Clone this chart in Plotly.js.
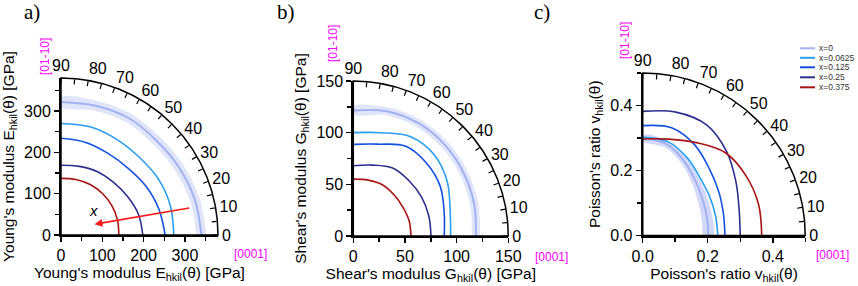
<!DOCTYPE html>
<html>
<head>
<meta charset="utf-8">
<script src="https://cdn.plot.ly/plotly-3.0.1.min.js"></script>
<style>html,body{margin:0;padding:0;background:#fff;}#chart{width:858px;height:286px;}</style>
</head>
<body>
<div id="chart"></div>
<script>
// ---- data ----
const theta = [0, 15, 30, 45, 60, 75, 90];
const seriesNames = ['x=0', 'x=0.0625', 'x=0.125', 'x=0.25', 'x=0.375'];
const seriesColors = ['#a3b1f0', '#2a9df0', '#1450e0', '#2e2e8e', '#a81414'];

// Young's modulus E (GPa)
const E_x0 = [340, 335, 329, 325, 327, 324, 322];
const E_x0_spread = [12, 12, 12, 12, 12, 12, 12];
const E_x00625 = [273, 274, 272, 267, 268, 271, 270];
const E_x0125 = [252, 245, 237, 229, 228, 232, 234];
const E_x025 = [198, 194, 186, 180, 177, 172, 169];
const E_x0375 = [140, 141.5, 142, 142, 141, 139, 137];

// Shear modulus G (GPa)
const G_x0 = [118.7, 121, 123, 125, 126, 125, 121.5];
const G_x0_spread = [4, 4, 4, 4, 4, 4, 4];
const G_x00625 = [94.2, 97, 105, 111, 111, 103.5, 100];
const G_x0125 = [88, 91, 97, 100, 100.5, 92, 88.7];
const G_x025 = [75.2, 75.6, 76, 76, 76, 71, 68];
const G_x0375 = [55.8, 56, 55.5, 56, 57, 56, 55];

// Poisson's ratio v
const V_x0 = [0.202, 0.205, 0.214, 0.232, 0.260, 0.290, 0.300];
const V_x0_spread = [0.018, 0.017, 0.016, 0.014, 0.012, 0.011, 0.010];
const V_x00625 = [0.231, 0.232, 0.238, 0.250, 0.275, 0.299, 0.302];
const V_x0125 = [0.253, 0.257, 0.270, 0.290, 0.321, 0.343, 0.338];
const V_x025 = [0.300, 0.307, 0.331, 0.365, 0.393, 0.393, 0.382];
const V_x0375 = [0.366, 0.369, 0.367, 0.360, 0.330, 0.307, 0.297];

const angleTicks = [0,5,10,15,20,25,30,35,40,45,50,55,60,65,70,75,80,85,90];
const angleTickText = ['0',' ','10',' ','20',' ','30',' ','40',' ','50',' ','60',' ','70',' ','80',' ','90'];

// ---- layout helpers ----
const W = 858, H = 286;
const px = v => v / W;
const py = v => 1 - v / H;
const FONT = 'Liberation Sans, Arial, sans-serif';

const panels = [
  {id: '', pid: 'polar', x0: 61, x1: 218, y0: 78, y1: 235, range: [0, 380], dtick: 100, minor: 50, fmt: '',
   xtitle: "Young's modulus E<sub>hkil</sub>(θ) [GPa]", ytitle: "Young's modulus E<sub>hkil</sub>(θ) [GPa]",
   main: [E_x0, E_x00625, E_x0125, E_x025, E_x0375], spread: E_x0_spread, bandColor: 'rgba(165,180,242,0.35)'},
  {id: '2', pid: 'polar2', x0: 353.3, x1: 508.3, y0: 81, y1: 236, range: [0, 150], dtick: 50, minor: 25, fmt: '',
   xtitle: "Shear's modulus G<sub>hkil</sub>(θ) [GPa]", ytitle: "Shear's modulus G<sub>hkil</sub>(θ) [GPa]",
   main: [G_x0, G_x00625, G_x0125, G_x025, G_x0375], spread: G_x0_spread, bandColor: 'rgba(165,180,242,0.35)'},
  {id: '3', pid: 'polar3', x0: 642.7, x1: 805.3, y0: 73, y1: 235.5, range: [0, 0.5], dtick: 0.2, minor: 0.1, fmt: '.1f',
   xtitle: "Poisson's ratio v<sub>hkil</sub>(θ)", ytitle: "Poisson's ratio v<sub>hkil</sub>(θ)",
   main: [V_x0, V_x00625, V_x0125, V_x025, V_x0375], spread: V_x0_spread, bandColor: 'rgba(165,180,242,0.5)'}
];

const traces = [];
const layout = {
  width: W, height: H,
  margin: {l: 0, r: 0, t: 0, b: 0},
  paper_bgcolor: '#fff', plot_bgcolor: 'rgba(0,0,0,0)',
  showlegend: false,
  font: {family: FONT, color: '#000'},
  shapes: [], annotations: []
};

panels.forEach(p => {
  traces.push({type: 'scatter', x: [], y: [], xaxis: 'x' + p.id, yaxis: 'y' + p.id, showlegend: false, hoverinfo: 'skip'});
  const axCommon = {
    range: p.range, showline: true, linecolor: '#000', linewidth: 2, mirror: false,
    ticks: 'outside', ticklen: 5, tickwidth: 1.5, tickcolor: '#000', dtick: p.dtick, tick0: 0,
    minor: {dtick: p.minor, ticks: 'outside', ticklen: 4, tickwidth: 1.5, tickcolor: '#000'},
    showgrid: false, zeroline: false, tickfont: {size: 16, family: FONT}, tickformat: p.fmt, fixedrange: true
  };
  layout['xaxis' + p.id] = Object.assign({}, axCommon, {
    domain: [px(p.x0), px(p.x1)], anchor: 'y' + p.id,
    title: {text: p.xtitle, font: {size: 15.5, family: FONT}, standoff: 4}
  });
  layout['yaxis' + p.id] = Object.assign({}, axCommon, {
    domain: [py(p.y1), py(p.y0)], anchor: 'x' + p.id,
    title: {text: p.ytitle, font: {size: 15.5, family: FONT}, standoff: 6}
  });
  layout[p.pid] = {
    domain: {x: [px(p.x0), px(p.x1)], y: [py(p.y1), py(p.y0)]},
    sector: [0, 90],
    bgcolor: 'rgba(0,0,0,0)',
    radialaxis: {range: p.range, visible: false, showgrid: false},
    angularaxis: {
      tickmode: 'array', tickvals: angleTicks, ticktext: angleTickText,
      ticks: 'inside', ticklen: 5, tickwidth: 1.2, tickcolor: '#000',
      showline: true, linecolor: '#000', linewidth: 1.5, showgrid: false,
      direction: 'counterclockwise', rotation: 0,
      tickfont: {size: 16, family: FONT, color: '#000'}
    }
  };
  const outer = p.main[0].map((r, i) => r + p.spread[i]);
  const inner = p.main[0].map((r, i) => r - p.spread[i]);
  traces.push({
    type: 'scatterpolar', subplot: p.pid,
    r: outer.concat(inner.slice().reverse()),
    theta: theta.concat(theta.slice().reverse()),
    mode: 'lines', fill: 'toself', fillcolor: p.bandColor,
    line: {width: 0, shape: 'spline', color: p.bandColor}, showlegend: false, hoverinfo: 'skip'
  });
  p.main.forEach((vals, k) => {
    traces.push({
      type: 'scatterpolar', subplot: p.pid, r: vals, theta: theta,
      mode: 'lines', name: seriesNames[k],
      line: {color: seriesColors[k], width: k === 0 ? 2 : 1.6, shape: 'spline'},
      showlegend: false
    });
  });
});

const ann = (o) => layout.annotations.push(Object.assign({xref: 'paper', yref: 'paper', showarrow: false,
  xanchor: 'center', yanchor: 'middle'}, o));

// panel letters
[['a)', 32], ['b)', 286], ['c)', 542]].forEach(([t, x]) => {
  ann({text: t, x: px(x), y: py(12), font: {family: 'Liberation Serif, Times New Roman, serif', size: 21, color: '#000'}});
});
// direction labels
[[45, 57], [333, 44], [625, 41]].forEach(([x, y]) => {
  ann({text: '[01-10]', x: px(x), y: py(y), textangle: -90, font: {family: FONT, size: 12, color: '#ff00ff'}});
});
[[251, 254], [551, 257], [832, 255]].forEach(([x, y]) => {
  ann({text: '[0001]', x: px(x), y: py(y), font: {family: FONT, size: 12, color: '#ff00ff'}});
});
// arrow in panel a
layout.annotations.push({x: 81, y: 26, xref: 'x', yref: 'y', ax: 314, ay: 66, axref: 'x', ayref: 'y',
  showarrow: true, arrowhead: 2, arrowsize: 1, arrowwidth: 1.6, arrowcolor: '#ff1a1a', text: ''});
layout.annotations.push({x: 78, y: 59, xref: 'x', yref: 'y', text: '<i>x</i>', showarrow: false,
  xanchor: 'center', yanchor: 'middle', font: {family: FONT, size: 15, color: '#000'}});

// compact legend
const legRows = [48.3, 57.8, 67.3, 77.3, 87.3];
seriesNames.forEach((name, k) => {
  layout.shapes.push({type: 'line', xref: 'paper', yref: 'paper', x0: px(800), x1: px(815), y0: py(legRows[k]), y1: py(legRows[k]),
    line: {color: seriesColors[k], width: 2}});
  ann({text: name, x: px(817), y: py(legRows[k]), xanchor: 'left', font: {family: FONT, size: 8.5, color: '#333'}});
});

Plotly.newPlot('chart', traces, layout, {staticPlot: true, displayModeBar: false});
</script>
</body>
</html>
